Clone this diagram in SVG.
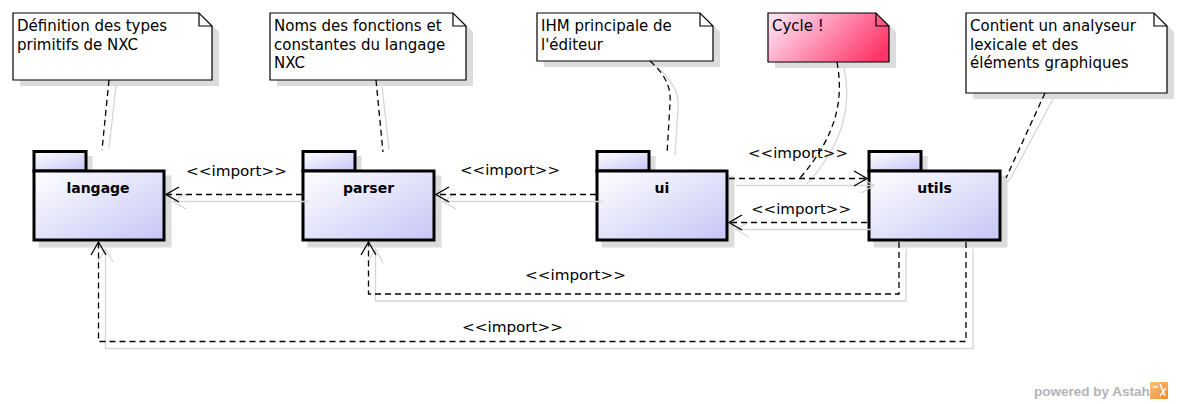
<svg xmlns="http://www.w3.org/2000/svg" width="1180" height="404" viewBox="0 0 1180 404">
<defs>
  <linearGradient id="pkg" x1="0" y1="0" x2="1" y2="1">
    <stop offset="0" stop-color="#ffffff"/>
    <stop offset="1" stop-color="#c6c6f6"/>
  </linearGradient>
  <linearGradient id="cyc" x1="0" y1="0.3" x2="1" y2="0.7">
    <stop offset="0" stop-color="#ffdcf0"/>
    <stop offset="1" stop-color="#ff3366"/>
  </linearGradient>
  <linearGradient id="logo" x1="0" y1="0" x2="1" y2="1">
    <stop offset="0" stop-color="#f9c27a"/>
    <stop offset="1" stop-color="#ef8a2e"/>
  </linearGradient>
  <marker id="arr" markerUnits="userSpaceOnUse" markerWidth="16" markerHeight="18" viewBox="-14 -9 16 18" refX="0" refY="0" orient="auto">
    <path d="M-13,-7.5 L0,0 L-13,7.5" fill="none" stroke="#000" stroke-width="1.3"/>
  </marker>
  <marker id="arrs" markerUnits="userSpaceOnUse" markerWidth="16" markerHeight="18" viewBox="-14 -9 16 18" refX="0" refY="0" orient="auto">
    <path d="M-13,-7.5 L0,0 L-13,7.5" fill="none" stroke="#d6d6d6" stroke-width="1.3"/>
  </marker>
  <style>
    .note { fill: #ffffff; stroke: #000; stroke-width: 1.2; }
    .fold { fill: none; stroke: #000; stroke-width: 1.2; }
    .shadow { fill: #dcdcdc; stroke: none; }
    .ntext { font-family: "DejaVu Sans", sans-serif; font-size: 15px; fill: #000; }
    .pkg { fill: url(#pkg); stroke: #000; stroke-width: 3; }
    .plabel { font-family: "DejaVu Sans", sans-serif; font-size: 14px; font-weight: bold; fill: #000; text-anchor: middle; }
    .dep { fill: none; stroke: #000; stroke-width: 1.3; stroke-dasharray: 6 4; }
    .dsh { fill: none; stroke: #d6d6d6; stroke-width: 1.3; }
    .ilabel { font-family: "DejaVu Sans", sans-serif; font-size: 14px; fill: #000; }
  </style>
</defs>
<rect width="1180" height="404" fill="#ffffff"/>

<!-- Notes -->
<g id="note-langage">
  <path class="shadow" d="M20,19 H206 L219,32 V86 H20 Z"/>
  <path class="note" d="M13,13 H199 L212,26 V80 H13 Z"/>
  <path class="fold" d="M199,13 V26 H212"/>
  <text class="ntext" x="17" y="31">Définition des types</text>
  <text class="ntext" x="17" y="49.5">primitifs de NXC</text>
</g>
<g id="note-parser">
  <path class="shadow" d="M277,19 H460 L473,32 V86 H277 Z"/>
  <path class="note" d="M270,13 H453 L466,26 V80 H270 Z"/>
  <path class="fold" d="M453,13 V26 H466"/>
  <text class="ntext" x="274" y="31">Noms des fonctions et</text>
  <text class="ntext" x="274" y="49.5">constantes du langage</text>
  <text class="ntext" x="274" y="68">NXC</text>
</g>
<g id="note-ui">
  <path class="shadow" d="M544,19 H707 L720,32 V67 H544 Z"/>
  <path class="note" d="M537,13 H700 L713,26 V61 H537 Z"/>
  <path class="fold" d="M700,13 V26 H713"/>
  <text class="ntext" x="541" y="31">IHM principale de</text>
  <text class="ntext" x="541" y="49.5">l'éditeur</text>
</g>
<g id="note-cycle">
  <path class="shadow" d="M775,19 H883 L896,32 V68 H775 Z"/>
  <path class="note" d="M768,13 H876 L889,26 V62 H768 Z" style="fill:url(#cyc)"/>
  <path class="fold" d="M876,13 V26 H889"/>
  <text class="ntext" x="772" y="31">Cycle !</text>
</g>
<g id="note-utils">
  <path class="shadow" d="M973,19 H1161 L1174,32 V99 H973 Z"/>
  <path class="note" d="M966,13 H1154 L1167,26 V93 H966 Z"/>
  <path class="fold" d="M1154,13 V26 H1167"/>
  <text class="ntext" x="970" y="31">Contient un analyseur</text>
  <text class="ntext" x="970" y="49.5">lexicale et des</text>
  <text class="ntext" x="970" y="68">éléments graphiques</text>
</g>

<!-- Packages -->
<g id="pkg-langage">
  <path class="shadow" d="M38.5,156 H92.5 V175.5 H171.5 V247.5 H38.5 Z"/>
  <rect class="pkg" x="34" y="151.5" width="52" height="19.5"/>
  <rect class="pkg" x="34" y="171" width="130" height="69"/>
  <text class="plabel" x="98" y="193">langage</text>
</g>
<g id="pkg-parser">
  <path class="shadow" d="M307.5,156 H361.5 V175.5 H441.5 V247.5 H307.5 Z"/>
  <rect class="pkg" x="303" y="151.5" width="52" height="19.5"/>
  <rect class="pkg" x="303" y="171" width="131" height="69"/>
  <text class="plabel" x="368.5" y="193">parser</text>
</g>
<g id="pkg-ui">
  <path class="shadow" d="M601.5,156 H655.5 V175.5 H734.5 V247.5 H601.5 Z"/>
  <rect class="pkg" x="597" y="151.5" width="52" height="19.5"/>
  <rect class="pkg" x="597" y="171" width="130" height="69"/>
  <text class="plabel" x="662" y="193">ui</text>
</g>
<g id="pkg-utils">
  <path class="shadow" d="M873.5,156 H927.5 V175.5 H1007.5 V247.5 H873.5 Z"/>
  <rect class="pkg" x="869" y="151.5" width="52" height="19.5"/>
  <rect class="pkg" x="869" y="171" width="131" height="69"/>
  <text class="plabel" x="934.5" y="193">utils</text>
</g>

<!-- Connectors -->
<g id="connectors">
  <g id="connector-shadows" transform="translate(7,7)">
    <path class="dsh" d="M302,194.5 H166" marker-end="url(#arrs)"/>
    <path class="dsh" d="M596,194.5 H436" marker-end="url(#arrs)"/>
    <path class="dsh" d="M729,178.5 H867" marker-end="url(#arrs)"/>
    <path class="dsh" d="M867,222.5 H729" marker-end="url(#arrs)"/>
    <path class="dsh" d="M899,242 V294 H368.5 V242" marker-end="url(#arrs)"/>
    <path class="dsh" d="M966,242 V341.5 H98.5 V242" marker-end="url(#arrs)"/>
  </g>
  <g id="note-link-shadows">
    <path class="dsh" d="M116,86 L109,148"/>
    <path class="dsh" d="M382,86 L389,150"/>
    <path class="dsh" d="M657,67 C677,85 679,97 678,110 S676,142 675,155"/>
    <path class="dsh" d="M844,68 C851,100 847,140 807,184"/>
    <path class="dsh" d="M1053,99 L1013,174 Q1010,181 1006,182"/>
  </g>
  <path class="dep" d="M302,194.5 H166" marker-end="url(#arr)"/>
  <path class="dep" d="M596,194.5 H436" marker-end="url(#arr)"/>
  <path class="dep" d="M729,178.5 H867" marker-end="url(#arr)"/>
  <path class="dep" d="M867,222.5 H729" marker-end="url(#arr)"/>
  <path class="dep" d="M899,242 V294 H368.5 V242" marker-end="url(#arr)"/>
  <path class="dep" d="M966,242 V341.5 H98.5 V242" marker-end="url(#arr)"/>

  <path class="dep" d="M109,80 L102,150"/>
  <path class="dep" d="M376,80 L383,152"/>
  <path class="dep" d="M650,61 C668,77 671,90 670,104 S668,140 667,153"/>
  <path class="dep" d="M837,62 C843,95 840,132 800,178"/>
  <path class="dep" d="M1045,93 L1006,178"/>

  <text class="ilabel" x="186" y="176" textLength="101" lengthAdjust="spacingAndGlyphs">&lt;&lt;import&gt;&gt;</text>
  <text class="ilabel" x="460" y="175" textLength="100" lengthAdjust="spacingAndGlyphs">&lt;&lt;import&gt;&gt;</text>
  <text class="ilabel" x="748" y="158" textLength="100" lengthAdjust="spacingAndGlyphs">&lt;&lt;import&gt;&gt;</text>
  <text class="ilabel" x="751" y="214" textLength="100" lengthAdjust="spacingAndGlyphs">&lt;&lt;import&gt;&gt;</text>
  <text class="ilabel" x="525" y="280" textLength="101" lengthAdjust="spacingAndGlyphs">&lt;&lt;import&gt;&gt;</text>
  <text class="ilabel" x="462" y="332" textLength="101" lengthAdjust="spacingAndGlyphs">&lt;&lt;import&gt;&gt;</text>
</g>

<!-- Watermark -->
<g id="watermark">
  <text x="1034" y="396" font-family="Liberation Sans, Arial, sans-serif" font-size="13.5" font-weight="bold" fill="#b4b4b4">powered by Astah</text>
  <rect x="1150" y="382" width="18" height="17" fill="url(#logo)"/>
  <path d="M1153,387 H1158 M1160,384 L1165,396 M1160,396 L1166,388" stroke="#ffffff" stroke-width="1.5" fill="none"/>
</g>
</svg>
